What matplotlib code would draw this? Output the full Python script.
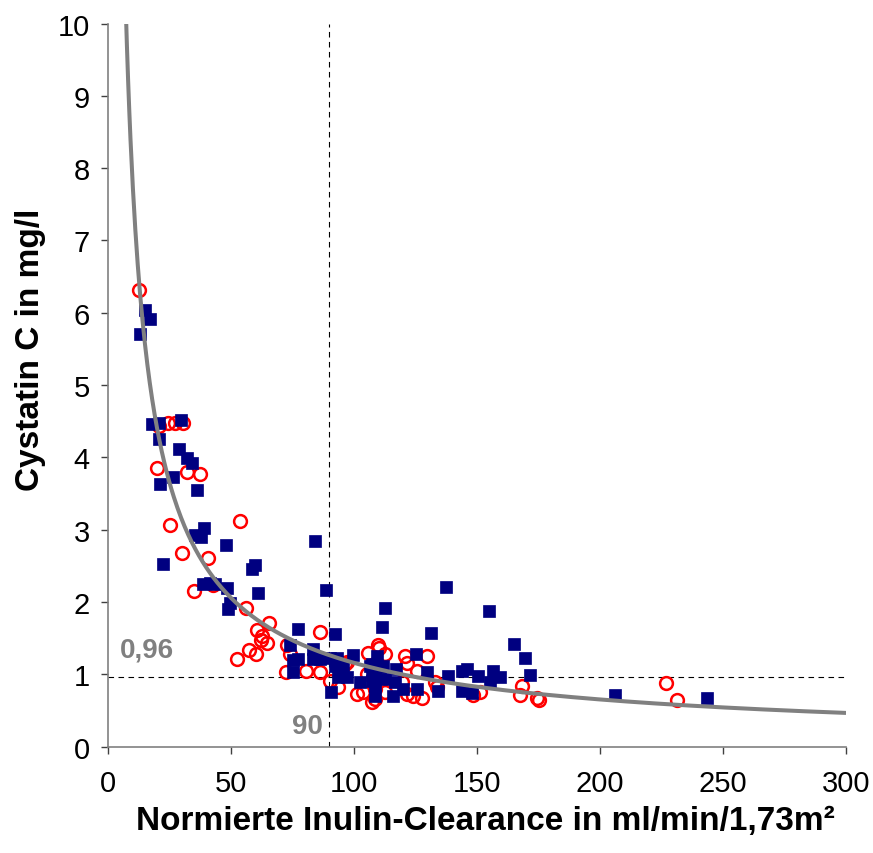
import matplotlib
matplotlib.use("Agg")
import matplotlib.pyplot as plt
import numpy as np

plt.rcParams['font.family'] = ['Liberation Sans', 'DejaVu Sans']

# Blue squares (x = inulin clearance, y = cystatin C)
blue_x = [13.0, 15.0, 17.0, 17.8, 20.9, 29.7, 20.9, 29.0, 32.0, 34.0, 26.3, 21.1, 36.1,
          39.1, 35.4, 37.8, 48.0, 22.5, 38.7, 41.5, 43.5, 48.3, 59.8, 58.7, 61.1, 49.6,
          48.9, 77.4, 84.1, 74.0, 75.3, 77.4, 75.1, 83.5, 83.5, 88.6, 92.3, 90.2, 93.0,
          86.2, 93.6, 97.0, 90.5, 112.6, 111.5, 137.4, 131.3, 99.7, 109.5, 125.2, 102.4,
          106.5, 108.5, 108.5, 108.5, 111.9, 117.0, 116.0, 120.0, 125.5, 129.5, 134.3,
          138.3, 143.8, 145.8, 143.8, 155.0, 165.2, 169.5, 171.5, 156.6, 159.3, 150.5,
          155.3, 147.8, 206.1, 243.4, 107.2, 107.2, 107.2, 110.6, 112.6, 116.7, 92.3, 95.4]
blue_y = [5.71, 6.04, 5.92, 4.46, 4.47, 4.52, 4.26, 4.12, 3.99, 3.92, 3.73, 3.63, 3.55,
          3.03, 2.93, 2.90, 2.79, 2.53, 2.25, 2.26, 2.25, 2.20, 2.51, 2.46, 2.12, 1.99,
          1.90, 1.63, 2.84, 1.40, 1.20, 1.21, 1.03, 1.35, 1.21, 2.16, 1.56, 1.22, 1.22,
          1.21, 0.96, 0.96, 0.76, 1.92, 1.65, 2.21, 1.57, 1.27, 1.26, 1.28, 0.89,
          1.12, 0.98, 0.84, 0.70, 1.12, 1.07, 0.70, 0.80, 0.80, 1.03, 0.77,
          0.98, 1.05, 1.07, 0.77, 1.87, 1.42, 1.22, 0.99, 1.05, 0.96, 0.98,
          0.89, 0.74, 0.71, 0.67, 1.14, 1.03, 0.91, 1.10, 0.94, 0.89, 1.12, 1.12]

# Red open circles
red_x = [12.5, 20.9, 24.5, 27.2, 30.4, 19.8, 32.1, 37.4, 25.2, 53.7, 30.2, 40.5, 35.0,
         42.6, 56.0, 65.6, 60.7, 62.7, 62.2, 64.5, 57.4, 60.2, 52.3, 72.9, 74.0, 72.4,
         80.5, 86.2, 86.2, 90.2, 93.6, 97.0, 105.8, 110.0, 112.6, 105.2, 101.1, 103.8,
         107.2, 112.6, 120.7, 121.4, 125.5, 121.4, 124.1, 127.5, 129.8, 119.4, 132.9,
         168.2, 167.5, 174.5, 175.3, 151.2, 148.5, 226.8, 231.4, 109.9, 108.5, 108.5,
         133.6, 96.3]
red_y = [6.32, 4.44, 4.48, 4.48, 4.47, 3.86, 3.80, 3.77, 3.07, 3.12, 2.68, 2.61, 2.15,
         2.24, 1.92, 1.71, 1.62, 1.53, 1.47, 1.43, 1.33, 1.28, 1.21, 1.41, 1.28, 1.03,
         1.05, 1.58, 1.03, 0.91, 0.82, 1.17, 1.30, 1.37, 1.28, 1.00, 0.73, 0.75,
         0.62, 0.75, 1.25, 1.16, 1.05, 0.73, 0.70, 0.67, 1.25, 0.89, 0.89,
         0.84, 0.71, 0.68, 0.64, 0.76, 0.71, 0.88, 0.65, 1.40, 0.80, 0.66,
         0.82, 1.14]

# Fitted power curve y = a * x^(-b)
fit_a = 52.5
fit_b = 0.828
fit_x_start = 7.2
fit_x_end = 300

cut_x = 90
cut_y = 0.96

x_ticks = [0, 50, 100, 150, 200, 250, 300]
y_ticks = [0, 1, 2, 3, 4, 5, 6, 7, 8, 9, 10]

fig = plt.figure(figsize=(8.73, 8.54), dpi=100)
ax = fig.add_axes([0.1237, 0.1245, 0.8454, 0.8468])

# reference lines
ax.plot([cut_x, cut_x], [0, 10], color='black', lw=0.8, ls=(0, (5, 4)), zorder=1)
ax.plot([0, 300], [cut_y, cut_y], color='black', lw=0.8, ls=(0, (5, 4)), zorder=1)

ax.plot(red_x, red_y, 'o', ms=9.2, mfc='none', mec='#ff0000', mew=1.8, zorder=2)
ax.plot(blue_x, blue_y, 's', ms=8.5, mfc='#000080', mec='#000080', mew=0.5, zorder=3)

xs = np.linspace(fit_x_start, fit_x_end, 600)
ax.plot(xs, fit_a * xs ** (-fit_b), color='#808080', lw=2.9, zorder=4, solid_capstyle='butt')

ax.set_xlim(0, 300)
ax.set_ylim(0, 10)
ax.set_xticks(x_ticks)
ax.set_yticks(y_ticks)
ax.tick_params(axis='both', direction='out', length=5, width=1, color='#404040',
               labelsize=21)
ax.tick_params(axis='x', pad=11)
ax.tick_params(axis='y', pad=8)
for s in ['top', 'right']:
    ax.spines[s].set_visible(False)
for s in ['left', 'bottom']:
    ax.spines[s].set_color('#808080')
    ax.spines[s].set_linewidth(1.2)

ax.set_xlabel('Normierte Inulin-Clearance in ml/min/1,73m²', fontsize=24, fontweight='bold')
ax.set_ylabel('Cystatin C in mg/l', fontsize=24, fontweight='bold')
ax.xaxis.set_label_coords(0.512, -0.08)
ax.yaxis.set_label_coords(-0.084, 0.55)

ax.text(4.9, 1.34, '0,96', color='#808080', fontsize=20, fontweight='bold', ha='left', va='center')
ax.text(87.5, 0.29, '90', color='#808080', fontsize=20, fontweight='bold', ha='right', va='center')

fig.savefig('out.png', dpi=100)
